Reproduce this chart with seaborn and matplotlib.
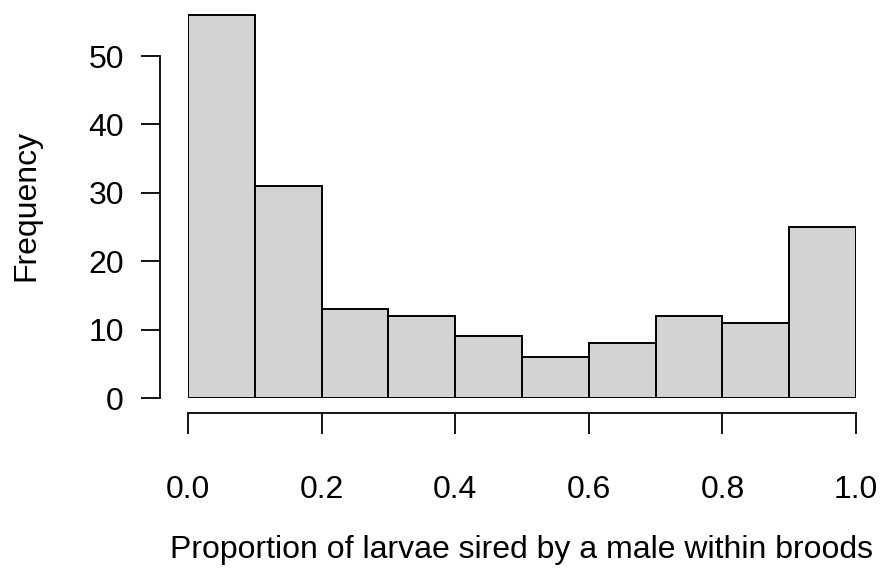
import matplotlib
matplotlib.use("Agg")
import matplotlib.pyplot as plt
import seaborn as sns
import numpy as np

bin_edges = [0.0, 0.1, 0.2, 0.3, 0.4, 0.5, 0.6, 0.7, 0.8, 0.9, 1.0]
counts = [56, 31, 13, 12, 9, 6, 8, 12, 11, 25]
x_ticks = [0.0, 0.2, 0.4, 0.6, 0.8, 1.0]
x_tick_labels = ["0.0", "0.2", "0.4", "0.6", "0.8", "1.0"]
y_ticks = [0, 10, 20, 30, 40, 50]

sns.set_style("white")
plt.rcParams['font.family'] = ['Liberation Sans', 'DejaVu Sans']

W, H = 882, 574
fig = plt.figure(figsize=(W / 100, H / 100), dpi=100)
px_per_y = (398 - 56) / 50.0
ymax = 56.3
ax = fig.add_axes([188 / W, (H - 398) / H, 668 / W, ymax * px_per_y / H])

centers = [(bin_edges[i] + bin_edges[i + 1]) / 2 for i in range(len(counts))]
sns.histplot(x=centers, weights=counts, bins=bin_edges, color="#D3D3D3",
             edgecolor="black", linewidth=1.4, alpha=1.0, ax=ax)

ax.set_xlim(0, 1)
ax.set_ylim(0, ymax)
for s in ["top", "right"]:
    ax.spines[s].set_visible(False)
ax.spines["left"].set_position(("outward", 28 * 0.72))
ax.spines["bottom"].set_position(("outward", 15 * 0.72))
ax.spines["left"].set_bounds(0, 50)
ax.spines["bottom"].set_bounds(0, 1)
for s in ["left", "bottom"]:
    ax.spines[s].set_linewidth(1.3)
    ax.spines[s].set_color("black")

ax.set_xticks(x_ticks)
ax.set_xticklabels(x_tick_labels)
ax.set_yticks(y_ticks)
ax.tick_params(axis="both", which="both", direction="out", color="black",
               width=1.3, labelsize=23, labelcolor="black")
ax.tick_params(axis="y", length=14, pad=12, left=True)
ax.tick_params(axis="x", length=15, pad=30, bottom=True)

ax.set_xlabel("Proportion of larvae sired by a male within broods", fontsize=23,
              labelpad=21, color="black")
ax.set_ylabel("Frequency", fontsize=23, labelpad=34, color="black")

fig.savefig("out.png", dpi=100)
